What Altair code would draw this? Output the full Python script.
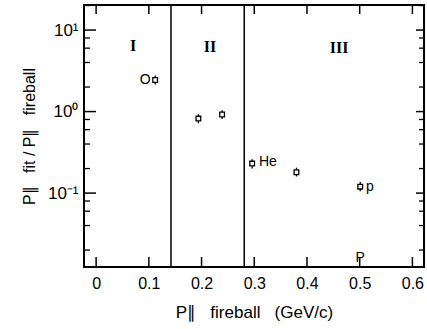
import altair as alt
import pandas as pd

# data
px = [0.112, 0.194, 0.239, 0.296, 0.380, 0.501]
py = [2.44, 0.82, 0.92, 0.23, 0.18, 0.12]
err_lo = [2.15, 0.72, 0.81, 0.20, 0.16, 0.105]
err_hi = [2.78, 0.93, 1.04, 0.26, 0.205, 0.137]

lab_text = ["O", "He", "p", "P"]
lab_x = [0.093, 0.309, 0.512, 0.501]
lab_y = [2.44, 0.24, 0.12, 0.0158]
lab_align = ["center", "left", "left", "center"]

roman_text = ["I", "II", "III"]
roman_x = [0.070, 0.216, 0.461]
roman_y = [6.4, 6.2, 6.0]

region_bounds = [0.142, 0.281]

x_ticks = [0, 0.1, 0.2, 0.3, 0.4, 0.5, 0.6]
y_major = [0.1, 1, 10]
y_minor = [m * d for d in [0.01, 0.1, 1, 10] for m in [2, 4, 6, 8]]

XDOM = [-0.023, 0.622]
YDOM = [0.0124, 20.3]
W, H = 340, 262

xs = alt.Scale(domain=XDOM, nice=False, zero=False)
ys = alt.Scale(type="log", domain=YDOM, nice=False)

pts = pd.DataFrame({"x": px, "y": py, "lo": err_lo, "hi": err_hi})
labs = pd.DataFrame({"t": lab_text, "x": lab_x, "y": lab_y, "a": lab_align})
rom = pd.DataFrame({"t": roman_text, "x": roman_x, "y": roman_y})
bounds = pd.DataFrame({"x": region_bounds})
xt = pd.DataFrame({"x": x_ticks})
ymaj = pd.DataFrame({"y": y_major})
ymin = pd.DataFrame({"y": [v for v in y_minor if YDOM[0] < v < YDOM[1]]})

NB = "\u00a0"
xtitle = "P∥" + NB * 3 + "fireball" + NB * 3 + "(GeV/c)"
ytitle = "P∥" + NB * 3 + "fit" + NB + "/" + NB + "P∥" + NB * 3 + "fireball"

base_x = alt.X("x:Q", scale=xs,
               axis=alt.Axis(values=x_ticks, title=xtitle, grid=False,
                             ticks=False, domain=False, labelFontSize=16,
                             labelPadding=8, titleFontSize=17, titlePadding=13,
                             labelFont="Liberation Sans", titleFont="Liberation Sans",
                             labelColor="black", titleColor="black", titleFontWeight="normal",
                             format="~g"))
base_y = alt.Y("y:Q", scale=ys,
               axis=alt.Axis(values=y_major, title=ytitle, grid=False,
                             ticks=False, domain=False, labelFontSize=17, labelPadding=6,
                             labelExpr="datum.value == 10 ? '10¹' : datum.value == 1 ? '10⁰' : '10⁻¹'",
                             titleFontSize=16, titlePadding=10,
                             labelFont="Liberation Sans", titleFont="Liberation Sans",
                             labelColor="black", titleColor="black", titleFontWeight="normal"))

errs = alt.Chart(pts).mark_rule(color="black", strokeWidth=1.3).encode(
    x=base_x, y=base_y, y2="hi:Q")
errs2 = alt.Chart(pts).mark_rule(color="black", strokeWidth=1.3).encode(
    x=alt.X("x:Q", scale=xs), y=alt.Y("lo:Q", scale=ys), y2="y:Q")
marks = alt.Chart(pts).mark_point(shape="square", size=22, filled=True, fill="white",
                                  stroke="black", strokeWidth=1.3, opacity=1).encode(
    x=alt.X("x:Q", scale=xs), y=alt.Y("y:Q", scale=ys))

lines = alt.Chart(bounds).mark_rule(color="black", strokeWidth=1.5).encode(
    x=alt.X("x:Q", scale=xs), y=alt.value(0), y2=alt.value(H))

labels_c = alt.Chart(labs).transform_filter("datum.a == 'center'").mark_text(
    fontSize=14, font="Liberation Sans", color="black", baseline="middle", align="center").encode(
    x=alt.X("x:Q", scale=xs), y=alt.Y("y:Q", scale=ys), text="t:N")
labels_l = alt.Chart(labs).transform_filter("datum.a == 'left'").mark_text(
    fontSize=14, font="Liberation Sans", color="black", baseline="middle", align="left").encode(
    x=alt.X("x:Q", scale=xs), y=alt.Y("y:Q", scale=ys), text="t:N")

romans = alt.Chart(rom).mark_text(fontSize=16, font="Liberation Serif", fontWeight="bold",
                                  color="black", baseline="middle", align="center").encode(
    x=alt.X("x:Q", scale=xs), y=alt.Y("y:Q", scale=ys), text="t:N")

# inward ticks
xt_bot = alt.Chart(xt).mark_rule(color="black", strokeWidth=1.5).encode(
    x=alt.X("x:Q", scale=xs), y=alt.value(H - 10), y2=alt.value(H))
xt_top = alt.Chart(xt).mark_rule(color="black", strokeWidth=1.5).encode(
    x=alt.X("x:Q", scale=xs), y=alt.value(0), y2=alt.value(9))
ymaj_l = alt.Chart(ymaj).mark_rule(color="black", strokeWidth=1.5).encode(
    y=alt.Y("y:Q", scale=ys), x=alt.value(0), x2=alt.value(12))
ymaj_r = alt.Chart(ymaj).mark_rule(color="black", strokeWidth=1.5).encode(
    y=alt.Y("y:Q", scale=ys), x=alt.value(W - 8), x2=alt.value(W))
ymin_l = alt.Chart(ymin).mark_rule(color="black", strokeWidth=1.3).encode(
    y=alt.Y("y:Q", scale=ys), x=alt.value(0), x2=alt.value(6))
ymin_r = alt.Chart(ymin).mark_rule(color="black", strokeWidth=1.3).encode(
    y=alt.Y("y:Q", scale=ys), x=alt.value(W - 5), x2=alt.value(W))

chart = alt.layer(errs, errs2, marks, lines, labels_c, labels_l, romans,
                  xt_bot, xt_top, ymaj_l, ymaj_r, ymin_l, ymin_r).properties(
    width=W, height=H,
    autosize=alt.AutoSizeParams(type="none"),
    padding={"left": 84, "top": 5, "right": 3, "bottom": 62},
    background="white",
).configure_view(stroke="black", strokeWidth=2)

chart.save("out.html", embed_options={"renderer": "svg", "actions": False})
